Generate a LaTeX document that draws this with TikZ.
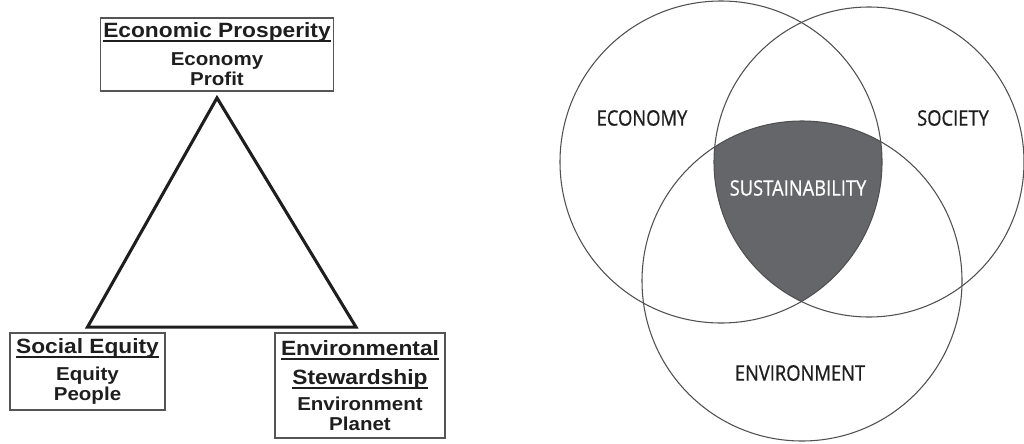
\documentclass[tikz,border=0pt]{standalone}
\usepackage{fontspec}
\usetikzlibrary{calc}
\setmainfont{Liberation Sans}
\newfontfamily\boxfont{Liberation Sans}[FakeStretch=1.1]
\newfontfamily\vennfont{Open Sans}[FakeStretch=0.86,FakeBold=0.7]
\newcommand\ulhead[1]{\setbox0\hbox{#1}\leavevmode\rlap{\rule[-3.2pt]{\wd0}{1.3pt}}\box0}
\definecolor{boxline}{RGB}{85,85,85}
\definecolor{inktext}{RGB}{30,30,30}
\definecolor{ringline}{RGB}{80,80,80}
\definecolor{sustaingray}{RGB}{100,102,106}

\tikzset{
  pillar/.style={draw=boxline, line width=1.1pt, align=center, inner sep=2pt,
    text=inktext, font=\boxfont\bfseries\fontsize{14}{15}\selectfont},
  ring/.style={draw=ringline, line width=0.8pt},
  venntext/.style={text=inktext, font=\vennfont\fontsize{16}{18}\selectfont}
}

\begin{document}
\begin{tikzpicture}[x=0.75pt,y=-0.75pt]
    \useasboundingbox (0,0) rectangle (1024,443);

    % three pillars
    \node[pillar, minimum width=174pt, minimum height=55pt] (prosper) at (217,54.5)
      {{\fontsize{15.5}{17}\selectfont\ulhead{Economic Prosperity}}\\[6pt] Economy\\ Profit};
    \node[pillar, minimum width=116pt, minimum height=58pt] (equity) at (87.5,371.5)
      {{\fontsize{15.5}{17}\selectfont\ulhead{Social Equity}}\\[5pt] Equity\\ People};
    \node[pillar, minimum width=127.5pt, minimum height=79pt] (steward) at (360,385.5)
      {{\fontsize{15.5}{17}\selectfont\ulhead{Environmental}}\\[7pt]
       {\fontsize{15.5}{17}\selectfont\ulhead{Stewardship}}\\[4pt] Environment\\ Planet};

    \coordinate (apex) at ($(prosper.south)+(0,6)$);
    \coordinate (left) at ($(equity.north)+(0,-5)$);
    \coordinate (right) at ($(steward.north)+(-4,-5)$);
    \draw[line width=2.3pt, draw=inktext] (apex) -- (left) -- (right) -- cycle;

    % venn
    \coordinate (eco) at (721,162);
    \coordinate (soc) at (869,162);
    \coordinate (env) at (802,281);
    \begin{scope}
      \clip (eco) circle [radius=120.75pt];
      \clip (soc) circle [radius=116.25pt];
      \fill[sustaingray] (env) circle [radius=120pt];
    \end{scope}
    \draw[ring] (eco) circle [radius=120.75pt];
    \draw[ring] (soc) circle [radius=116.25pt];
    \draw[ring] (env) circle [radius=120pt];

    \node[venntext] (economy) at (642,118) {ECONOMY};
    \node[venntext] (society) at (953,118) {SOCIETY};
    \node[venntext, text=white] (sustain) at (798,188) {SUSTAINABILITY};
    \node[venntext] (environ) at (800,373) {ENVIRONMENT};
\end{tikzpicture}
\end{document}
